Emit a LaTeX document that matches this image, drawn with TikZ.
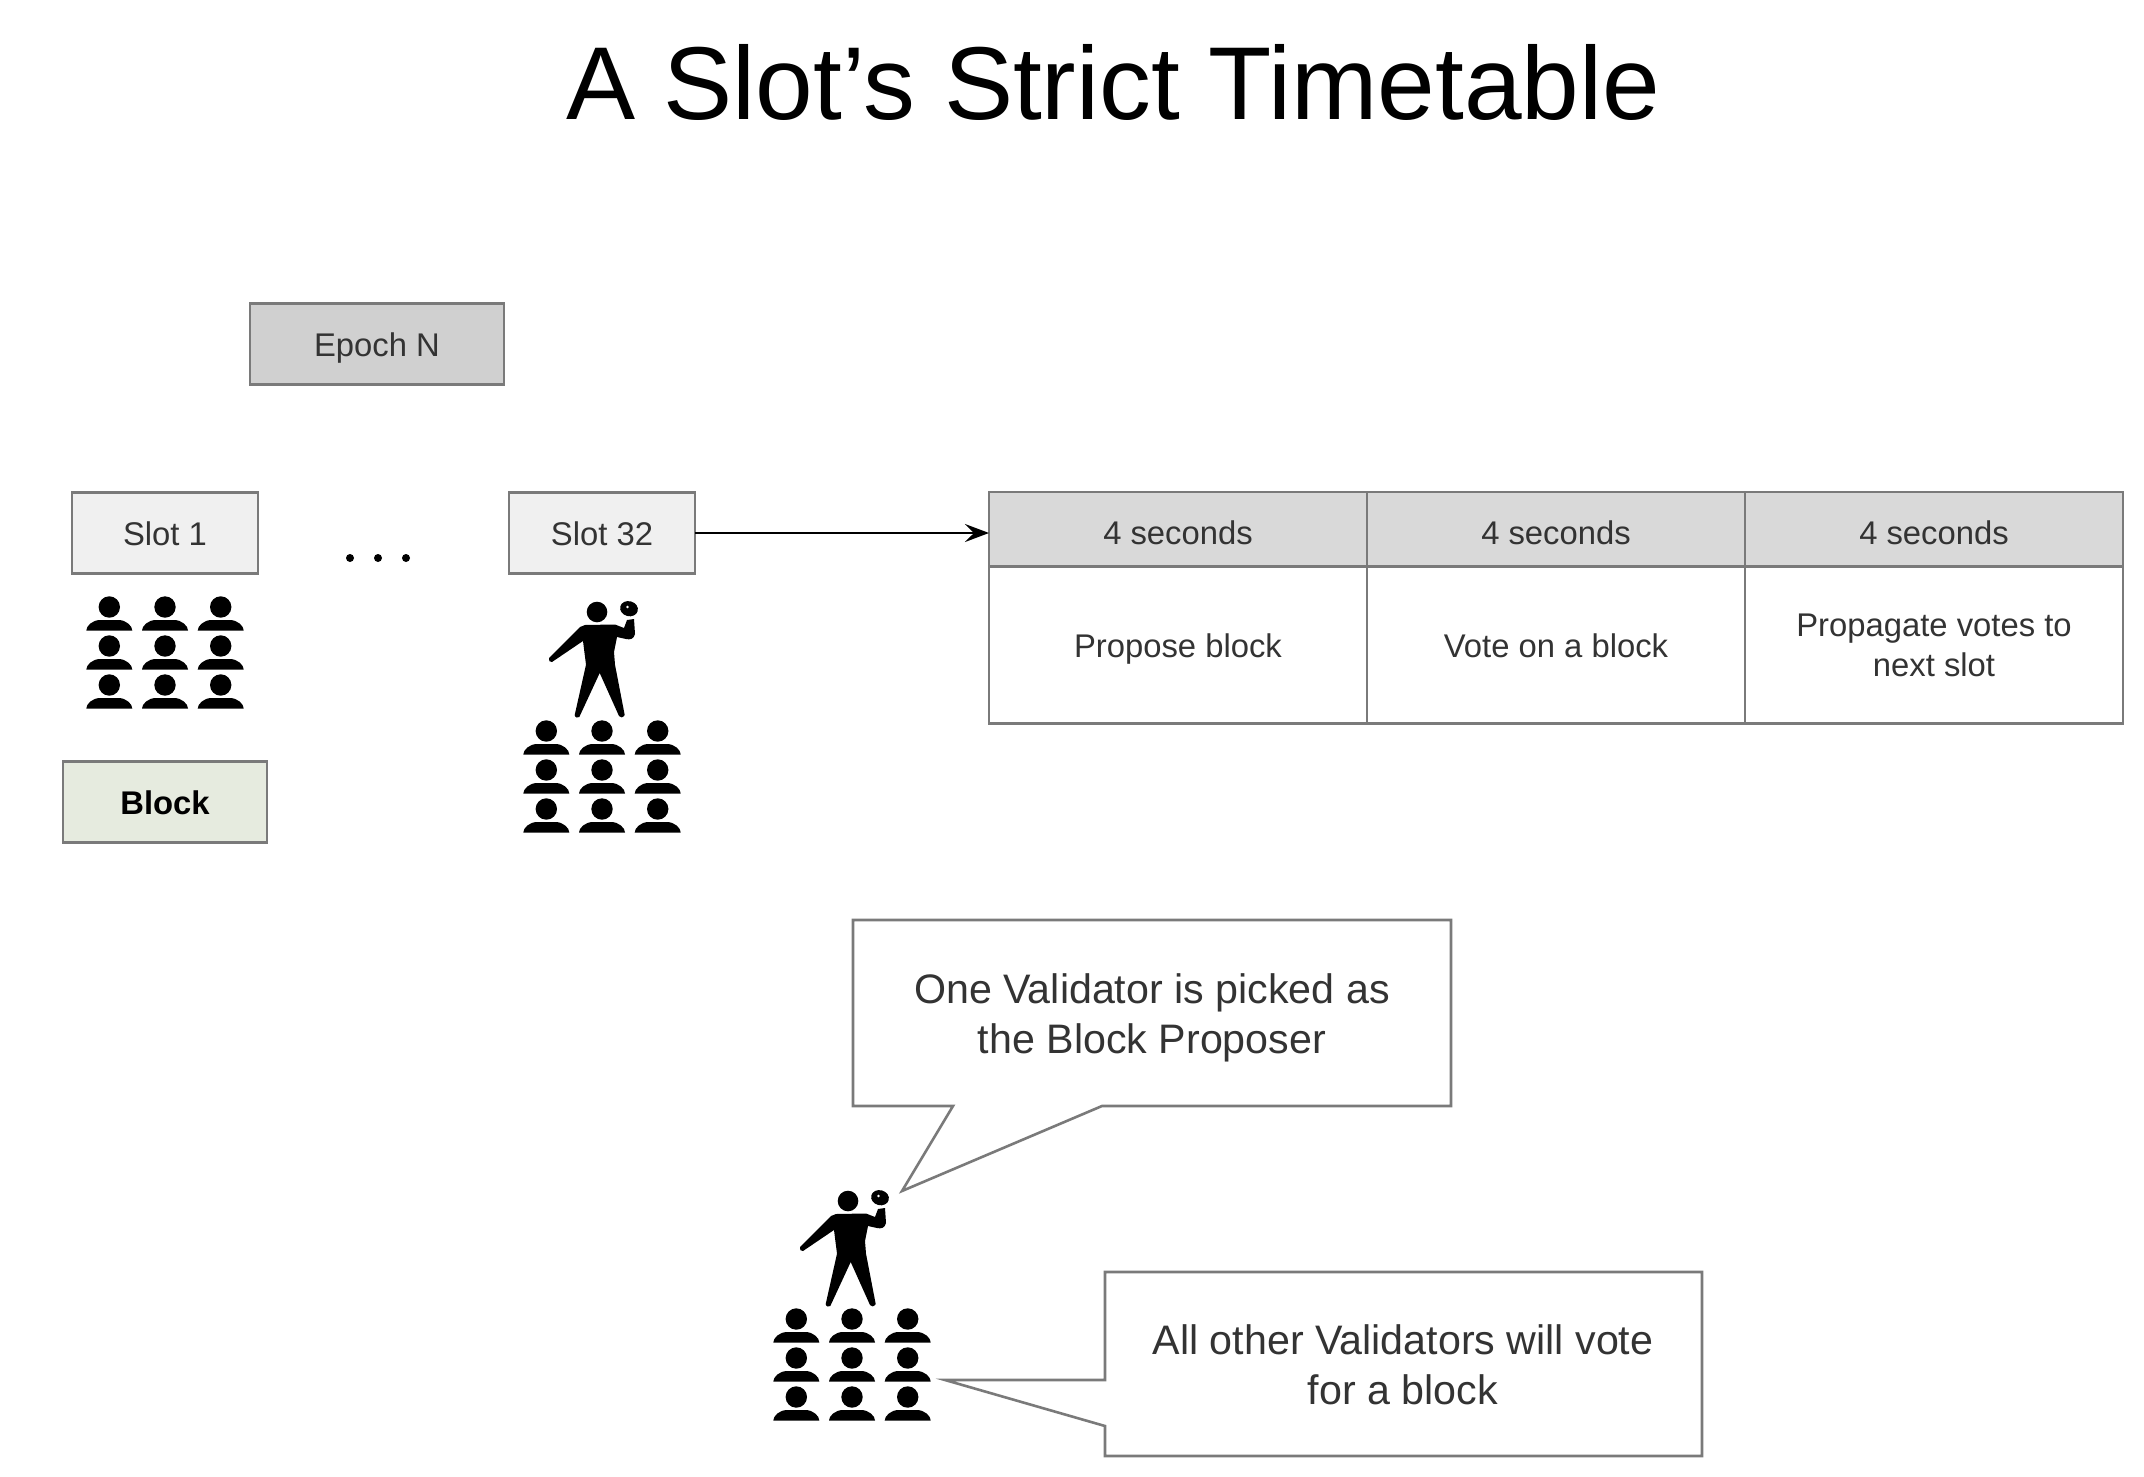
\documentclass[tikz,border=0pt]{standalone}
\usepackage{fontspec}
\setmainfont{Liberation Sans}
\usetikzlibrary{arrows.meta}
\definecolor{edge}{HTML}{7A7A7A}
\definecolor{ink}{HTML}{333333}
\definecolor{hdrfill}{HTML}{D9D9D9}
\definecolor{epochfill}{HTML}{D0D0D0}
\definecolor{slotfill}{HTML}{F0F0F0}
\definecolor{blockfill}{HTML}{E6EBDF}
\tikzset{
  x=1pt,y=-1pt,
  boxstyle/.style={draw=edge,line width=2.6pt,rectangle,inner sep=0pt,outer sep=0pt,text=ink,
    font=\fontsize{32.8}{40}\selectfont,text height=24pt,text depth=0pt},
  slotbox/.style={boxstyle,fill=slotfill,minimum width=186pt,minimum height=81pt},
  hdrcell/.style={boxstyle,fill=hdrfill,minimum width=378pt,minimum height=74pt,text height=30pt},
  bodycell/.style={boxstyle,minimum width=378pt,minimum height=157pt},
  calloutline/.style={draw=edge,line width=2.6pt,line join=miter,fill=white},
  callouttext/.style={text=ink,align=center,inner sep=0pt,font=\fontsize{41.2}{49.5}\selectfont},
  person/.pic={
    \fill[black] (0,0) circle[radius=10.7];
    \fill[black] (-23,23.5) .. controls (-23,19) and (-17,13) .. (-9,13) -- (9,13)
       .. controls (17,13) and (23,19) .. (23,23.5) -- cycle;
  },
  speaker/.pic={
    \fill[black] (0,0) circle[radius=10.3];
    \fill[black,line join=round] (-48,46) -- (-17,15) -- (-12,13) -- (18,12.5) -- (27,16) -- (30,8) -- (37,7)
       -- (38,22) .. controls (37,27) and (33,28) .. (29,27) -- (20,25) -- (17,40) -- (18,52.7) -- (27.7,103) .. controls (26,106) and (23,106) .. (22,104)
       -- (2.7,61) -- (-17.7,105) .. controls (-19,106) and (-22,106) .. (-22.3,103)
       -- (-11,52.7) -- (-14,29) -- (-45,50) .. controls (-47,51) and (-49,48) .. (-48,46) -- cycle;
    \fill[black,rotate around={-15:(32,-3.3)}] (32,-3.3) ellipse[x radius=9,y radius=7.5];
    \fill[white] (30.5,-5) circle[radius=1.4];
  },
  crowd/.pic={
    \foreach \cx in {-55.7,0,55.7}
      \foreach \cy in {0,39,78}
        \pic at (\cx,\cy) {person};
  }
}
\begin{document}
\begin{tikzpicture}
\path[use as bounding box,fill=white] (0,0) rectangle (2144,1477);

\node[inner sep=0pt,text=black,font=\fontsize{103.6}{110}\selectfont] (title) at (1113,82) {A Slot’s Strict Timetable};

\node[boxstyle,fill=epochfill,minimum width=254pt,minimum height=81pt] (epoch) at (377,344) {Epoch N};
\node[slotbox] (slotA) at (165,533) {Slot 1};
\node[slotbox] (slotB) at (602,533) {Slot 32};
\node[boxstyle,fill=blockfill,minimum width=204pt,minimum height=81pt,font=\fontsize{32.8}{40}\selectfont\bfseries,text=black] (block) at (165,802) {Block};

\node[inner sep=0pt] (dotA) at (350,558) {}; \fill[black] (dotA) circle[radius=4];
\node[inner sep=0pt] (dotB) at (378,558) {}; \fill[black] (dotB) circle[radius=4];
\node[inner sep=0pt] (dotC) at (406,558) {}; \fill[black] (dotC) circle[radius=4];

\node[hdrcell] (h1) at (1178,529) {4 seconds};
\node[hdrcell] (h2) at (1556,529) {4 seconds};
\node[hdrcell] (h3) at (1934,529) {4 seconds};
\node[bodycell,fill=white] (b1) at (1178,645) {Propose block};
\node[bodycell,fill=white] (b2) at (1556,645) {Vote on a block};
\node[bodycell,fill=white,text height=,text depth=,align=center] (b3) at (1934,645) {Propagate votes to\\next slot};

\coordinate (arrowend) at (slotB.east -| h1.west);
\draw[black,line width=2.2pt,-{Stealth[length=24pt,width=18pt,inset=9pt]}] (slotB.east) -- (arrowend);

\pic at (165,607) {crowd};
\pic at (602,731) {crowd};
\pic at (852,1319) {crowd};
\pic at (597,612) {speaker};
\pic at (848,1201) {speaker};

\draw[calloutline] (853,920) -- (1451,920) -- (1451,1106) -- (1102,1106) -- (902,1191) -- (953,1106) -- (853,1106) -- cycle;
\node[callouttext] (c1) at (1152,1018) {One Validator is picked as\\the Block Proposer};

\draw[calloutline] (1105,1272) -- (1702,1272) -- (1702,1456) -- (1105,1456) -- (1105,1426) -- (945,1380) -- (1105,1380) -- cycle;
\node[callouttext] (c2) at (1403,1365) {All other Validators will vote\\for a block};
\end{tikzpicture}
\end{document}
